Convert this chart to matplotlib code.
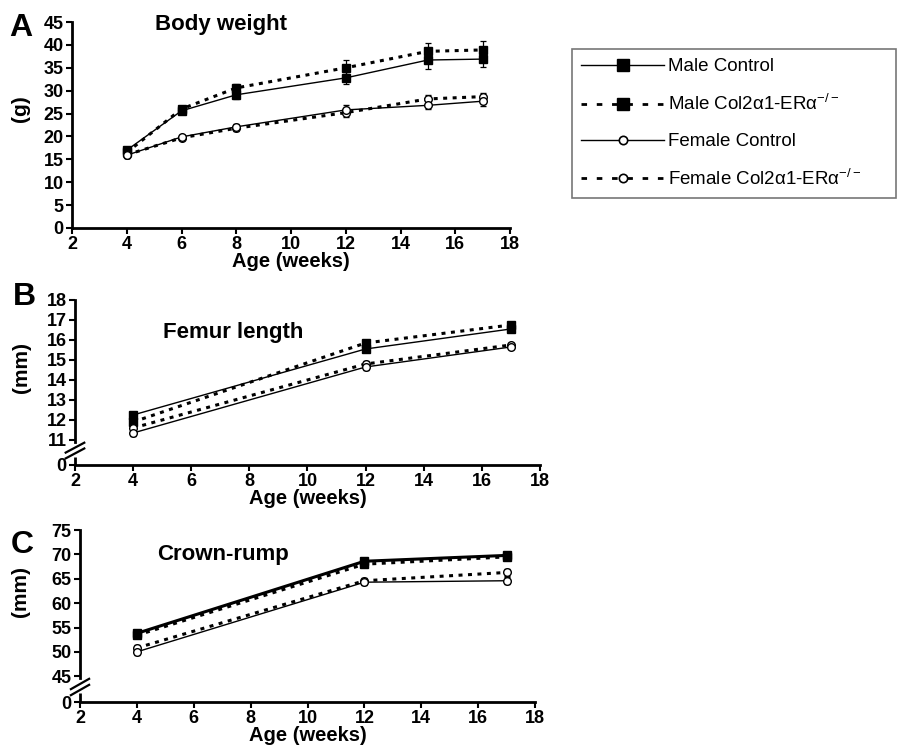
import matplotlib
matplotlib.use("Agg")
import matplotlib.pyplot as plt
from matplotlib.lines import Line2D

plt.rcParams['font.family'] = ['Liberation Sans', 'DejaVu Sans']
plt.rcParams['mathtext.fontset'] = 'custom'
plt.rcParams['mathtext.rm'] = 'Liberation Sans'
plt.rcParams['mathtext.it'] = 'Liberation Sans'

# ---------------- data ----------------
weeks_bw = [4, 6, 8, 12, 15, 17]
bw_male_ctrl = [17.0, 25.6, 29.1, 32.8, 36.7, 36.9]
bw_male_ko = [16.5, 26.0, 30.6, 35.0, 38.6, 38.9]
bw_fem_ctrl = [15.9, 19.9, 22.1, 25.8, 26.8, 27.7]
bw_fem_ko = [16.0, 19.7, 21.8, 25.2, 28.2, 28.7]
bw_male_ctrl_err = [0.6, 0.7, 0.9, 1.3, 2.0, 1.8]
bw_male_ko_err = [0.6, 0.7, 0.9, 1.7, 1.8, 2.0]
bw_fem_ctrl_err = [0.5, 0.5, 0.6, 1.0, 0.9, 1.0]
bw_fem_ko_err = [0.5, 0.5, 0.6, 1.0, 0.9, 0.9]

weeks_fl = [4, 12, 17]
fl_male_ctrl = [12.25, 15.55, 16.55]
fl_male_ko = [11.9, 15.85, 16.75]
fl_fem_ctrl = [11.35, 14.65, 15.65]
fl_fem_ko = [11.6, 14.8, 15.75]
fl_err = [0.15, 0.15, 0.12]

weeks_cr = [4, 12, 17]
cr_male_ctrl = [53.8, 68.6, 69.8]
cr_male_ko = [53.4, 68.0, 69.5]
cr_fem_ctrl = [50.0, 64.3, 64.6]
cr_fem_ko = [50.8, 64.6, 66.3]
cr_err = [0.6, 0.6, 0.7]

series_labels = ['Male Control', 'Male Col2\u03b11-ER\u03b1$^{-/-}$',
                 'Female Control', 'Female Col2\u03b11-ER\u03b1$^{-/-}$']

xticks = [2, 4, 6, 8, 10, 12, 14, 16, 18]

fig = plt.figure(figsize=(8.98, 7.49), dpi=100)

DASH = (0, (1.3, 1.8))


def draw(ax, x, mc, mk, fc, fk, errs, lw_m=1.0, lw_f=1.0):
    e = errs
    kw = dict(color='black', elinewidth=0.9, capsize=2.5, capthick=0.9)
    ax.errorbar(x, mk, yerr=e[1], marker='s', ms=5.5, mfc='black', mec='black',
                ls=DASH, lw=2.2, **kw)
    ax.errorbar(x, mc, yerr=e[0], marker='s', ms=5.5, mfc='black', mec='black',
                ls='-', lw=lw_m, **kw)
    ax.errorbar(x, fk, yerr=e[3], marker='o', ms=5.5, mfc='white', mec='black',
                mew=1.0, ls=DASH, lw=2.2, **kw)
    ax.errorbar(x, fc, yerr=e[2], marker='o', ms=5.5, mfc='white', mec='black',
                mew=1.0, ls='-', lw=lw_f, **kw)


def style(ax, ymin, ymax, yticks, ylabels, broken=False):
    ax.set_xlim(2, 18)
    ax.set_ylim(ymin, ymax)
    ax.set_xticks(xticks)
    ax.set_yticks(yticks)
    ax.set_yticklabels(ylabels)
    for s in ['top', 'right']:
        ax.spines[s].set_visible(False)
    for s in ['left', 'bottom']:
        ax.spines[s].set_linewidth(2.0)
    ax.tick_params(axis='both', direction='out', length=4, width=1.5,
                   labelsize=13, pad=2)
    for t in ax.get_xticklabels() + ax.get_yticklabels():
        t.set_fontweight('bold')
    ax.set_xlabel('Age (weeks)', fontsize=14.5, fontweight='bold', labelpad=-1)
    if broken:
        for dy in (0.0, 0.035):
            ax.plot([-0.02, 0.02], [0.04 + dy, 0.10 + dy], transform=ax.transAxes,
                    color='black', lw=1.6, clip_on=False)
        ax.spines['left'].set_bounds(ymin + (ymax - ymin) * 0.14, ymax)
        ax.plot([0, 0], [0, 0.05], transform=ax.transAxes, color='black',
                lw=2.0, clip_on=False, solid_capstyle='butt')


# ---------------- Panel A ----------------
axA = fig.add_axes([0.0802, 0.6956, 0.4878, 0.275])
draw(axA, weeks_bw, bw_male_ctrl, bw_male_ko, bw_fem_ctrl, bw_fem_ko,
     [bw_male_ctrl_err, bw_male_ko_err, bw_fem_ctrl_err, bw_fem_ko_err])
style(axA, 0, 45, list(range(0, 46, 5)), [str(v) for v in range(0, 46, 5)])
axA.set_ylabel('(g)', fontsize=15, fontweight='bold')
axA.yaxis.set_label_coords(-0.095, 0.58)
axA.text(0.19, 0.99, 'Body weight', transform=axA.transAxes, fontsize=16,
         fontweight='bold', va='center', ha='left')
fig.text(0.010, 0.962, 'A', fontsize=23, fontweight='bold', va='center')

# ---------------- Panel B ----------------
axB = fig.add_axes([0.0835, 0.3792, 0.5178, 0.2203])
draw(axB, weeks_fl, fl_male_ctrl, fl_male_ko, fl_fem_ctrl, fl_fem_ko,
     [fl_err] * 4)
b_min = 9.75
style(axB, b_min, 18, [b_min] + list(range(11, 19)),
      ['0'] + [str(v) for v in range(11, 19)], broken=True)
axB.set_ylabel('(mm)', fontsize=15, fontweight='bold')
axB.yaxis.set_label_coords(-0.095, 0.59)
axB.text(0.19, 0.80, 'Femur length', transform=axB.transAxes, fontsize=16,
         fontweight='bold', va='center', ha='left')
fig.text(0.014, 0.603, 'B', fontsize=23, fontweight='bold', va='center')

# ---------------- Panel C ----------------
axC = fig.add_axes([0.0891, 0.0627, 0.5067, 0.2296])
draw(axC, weeks_cr, cr_male_ctrl, cr_male_ko, cr_fem_ctrl, cr_fem_ko,
     [cr_err] * 4, lw_m=2.2)
c_min = 39.7
style(axC, c_min, 75, [c_min] + list(range(45, 76, 5)),
      ['0'] + [str(v) for v in range(45, 76, 5)], broken=True)
axC.set_ylabel('(mm)', fontsize=15, fontweight='bold')
axC.yaxis.set_label_coords(-0.11, 0.64)
axC.text(0.17, 0.86, 'Crown-rump', transform=axC.transAxes, fontsize=16,
         fontweight='bold', va='center', ha='left')
fig.text(0.012, 0.272, 'C', fontsize=23, fontweight='bold', va='center')

# ---------------- Legend ----------------
LDASH = (0, (2.0, 3.5))
handles = [
    Line2D([], [], color='black', ls='-', lw=1.0, marker='s', ms=8, mfc='black'),
    Line2D([], [], color='black', ls=LDASH, lw=2.0, marker='s', ms=8, mfc='black'),
    Line2D([], [], color='black', ls='-', lw=1.0, marker='o', ms=6, mfc='white', mew=1.2),
    Line2D([], [], color='black', ls=LDASH, lw=2.0, marker='o', ms=6, mfc='white', mew=1.2),
]
leg = fig.legend(handles, series_labels, loc='upper left',
                 bbox_to_anchor=(0.637, 0.733, 0.361, 0.2016), mode='expand',
                 fontsize=13.5, frameon=True,
                 fancybox=False, edgecolor='#555555', handlelength=4.4,
                 handletextpad=0.2, labelspacing=1.0, borderpad=0.5,
                 borderaxespad=0)
leg.get_frame().set_linewidth(1.2)

fig.savefig('out.png', dpi=100)
